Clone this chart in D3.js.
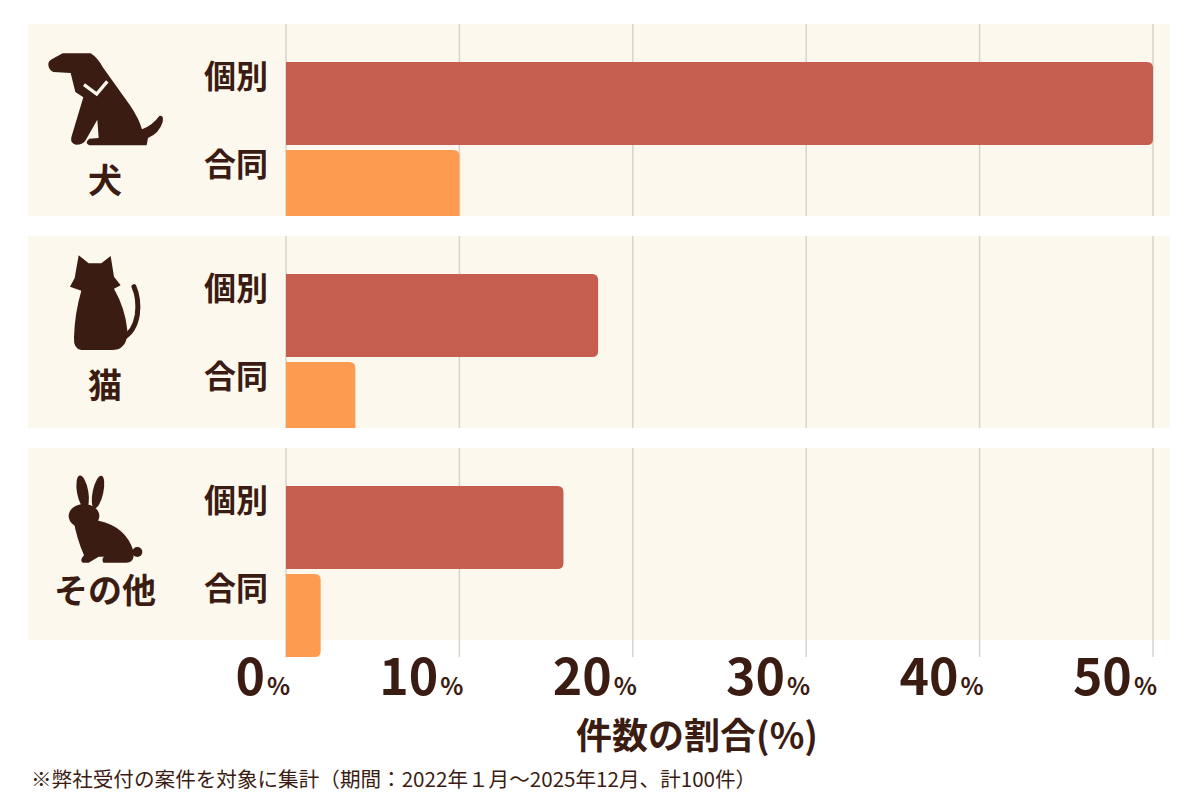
<!DOCTYPE html>
<html lang="ja">
<head>
<meta charset="utf-8">
<script src="https://cdn.jsdelivr.net/npm/d3@7"></script>
<style>
  html, body { margin: 0; padding: 0; background: #fff; }
  svg { display: block; font-family: "Noto Sans CJK JP", "Noto Sans", sans-serif; }
</style>
</head>
<body>
<svg id="chart" width="1200" height="800"></svg>
<script>
// ---------- data ----------
const animals = ["犬", "猫", "その他"];
const kinds = ["個別", "合同"];
const kobetsu = [50, 18, 16];   // % of cases, individual cremation
const godo = [10, 4, 2];        // % of cases, joint cremation
const xTicks = [0, 10, 20, 30, 40, 50];
const xTitle = "件数の割合(%)";
const note = "※弊社受付の案件を対象に集計（期間：2022年１月～2025年12月、計100件）";

const rows = animals.map((a, i) => ({ animal: a, values: [kobetsu[i], godo[i]] }));

// ---------- look ----------
const C = {
  band: "#fdf8ee",
  grid: "#d9d3ca",
  text: "#3b1c12",
  bar: { "個別": "#c55e4e", "合同": "#fd9c50" }
};

const svg = d3.select("#chart");

// ---------- scales ----------
const x = d3.scaleLinear().domain([0, 50]).range([286, 1153]);
const gy = d3.scaleBand().domain(animals).range([24, 640]).paddingInner(20 / 212).paddingOuter(0);
const by = d3.scaleBand().domain(kinds).range([38, 38 + 171]).paddingInner(5 / 88).paddingOuter(0);

const plotBottom = gy(animals[animals.length - 1]) + by(kinds[1]) + by.bandwidth();

// ---------- bands ----------
svg.append("g").selectAll("rect").data(animals).join("rect")
  .attr("x", 28).attr("width", 1170 - 28)
  .attr("y", d => gy(d)).attr("height", gy.bandwidth())
  .attr("fill", C.band);

// ---------- grid ----------
svg.append("g").selectAll("line").data(xTicks).join("line")
  .attr("x1", d => x(d)).attr("x2", d => x(d))
  .attr("y1", 24).attr("y2", plotBottom)
  .attr("stroke", C.grid).attr("stroke-width", 1.5);

// ---------- bars ----------
function rightRounded(x0, y0, w, h, r) {
  r = Math.min(r, w, h / 2);
  return `M${x0},${y0}H${x0 + w - r}Q${x0 + w},${y0} ${x0 + w},${y0 + r}` +
    `V${y0 + h - r}Q${x0 + w},${y0 + h} ${x0 + w - r},${y0 + h}H${x0}Z`;
}

const groups = svg.append("g").selectAll("g.grp").data(rows).join("g")
  .attr("class", "grp")
  .attr("transform", d => `translate(0,${gy(d.animal)})`);

groups.selectAll("path.bar")
  .data(d => d.values.map((v, i) => ({ kind: kinds[i], v })))
  .join("path")
  .attr("class", "bar")
  .attr("fill", d => C.bar[d.kind])
  .attr("d", d => rightRounded(x(0), by(d.kind), x(d.v) - x(0), by.bandwidth(), 6));

// white gaps between the bands cut the lower bars off
const gaps = animals.slice(0, -1).map(a => gy(a) + gy.bandwidth());
svg.append("g").selectAll("rect").data(gaps).join("rect")
  .attr("x", 0).attr("width", 1200)
  .attr("y", d => d).attr("height", gy.step() - gy.bandwidth())
  .attr("fill", "#fff");

// ---------- kind labels ----------
groups.selectAll("text.kind").data(kinds).join("text")
  .attr("class", "kind")
  .attr("x", 268)
  .attr("y", d => by(d) + 14)
  .attr("dy", "0.36em")
  .attr("text-anchor", "end")
  .attr("font-size", 32).attr("font-weight", 700)
  .attr("fill", C.text)
  .text(d => d);

// ---------- animal labels + icons ----------
const labelDy = [157, 150, 143];
groups.append("text")
  .attr("x", 105)
  .attr("y", (d, i) => labelDy[i])
  .attr("dy", "0.36em")
  .attr("text-anchor", "middle")
  .attr("font-size", 34).attr("font-weight", 700)
  .attr("fill", C.text)
  .text(d => d.animal);

// icon shapes drawn on a 3x grid, scaled down
const icons = {
  "犬": g => {
    g.append("path").attr("d",
      "M85 140 Q84 128 98 122 L128 106 L212 106 Q232 118 250 150 L330 262 Q356 300 366 334 " +
      "Q398 322 418 294 Q432 290 428 312 Q418 346 384 360 L380 382 L208 382 Q192 374 208 362 " +
      "L236 360 L232 305 L196 368 Q188 380 168 380 Q150 378 154 358 L190 238 L166 222 " +
      "L152 165 L100 162 Q86 156 85 140 Z");
    g.append("path").attr("d", "M192 200 L230 228 L262 190")
      .attr("fill", "none").attr("stroke", C.band).attr("stroke-width", 10)
      .attr("stroke-linejoin", "miter");
  },
  "猫": g => {
    g.append("path").attr("d",
      "M176 76 L206 100 L244 100 L272 78 L282 140 L302 166 L282 176 " +
      "Q316 236 322 300 Q322 340 306 350 Q296 360 276 360 L184 360 Q160 358 162 322 " +
      "Q164 250 184 182 L150 170 L164 144 Z");
    g.append("path").attr("d", "M306 326 Q344 306 352 254 Q358 206 342 170")
      .attr("fill", "none").attr("stroke", C.text).attr("stroke-width", 15)
      .attr("stroke-linecap", "round");
  },
  "その他": g => {
    g.append("ellipse").attr("cx", 188).attr("cy", 150).attr("rx", 17).attr("ry", 50)
      .attr("transform", "rotate(-10 188 150)");
    g.append("ellipse").attr("cx", 234).attr("cy", 150).attr("rx", 16).attr("ry", 50)
      .attr("transform", "rotate(12 234 150)");
    g.append("ellipse").attr("cx", 192).attr("cy", 222).attr("rx", 46).attr("ry", 36);
    g.append("path").attr("d",
      "M160 232 Q196 250 236 236 Q318 254 340 326 Q346 362 318 362 L250 362 " +
      "Q244 350 252 344 L236 344 L206 362 L188 362 Q178 356 192 340 Q170 290 160 232 Z");
    g.append("circle").attr("cx", 352).attr("cy", 330).attr("r", 15);
  }
};

groups.append("g")
  .attr("transform", "translate(20,-6) scale(0.3333)")
  .attr("fill", C.text)
  .each(function (d) { icons[d.animal](d3.select(this)); });

// ---------- x tick labels ----------
const tickG = svg.append("g").selectAll("text").data(xTicks).join("text")
  .attr("x", d => x(d) + 4)
  .attr("y", 695)
  .attr("text-anchor", "end")
  .attr("fill", C.text)
  .attr("font-weight", 700);
tickG.append("tspan").attr("font-size", 50).text(d => d);
tickG.append("tspan").attr("font-size", 24).attr("dx", 2).text("%");

// ---------- axis title + note ----------
svg.append("text")
  .attr("x", 697).attr("y", 749)
  .attr("text-anchor", "middle")
  .attr("font-size", 36).attr("font-weight", 700)
  .attr("fill", C.text)
  .text(xTitle);

svg.append("text")
  .attr("x", 31).attr("y", 787)
  .attr("font-size", 20.6)
  .attr("fill", C.text)
  .text(note);
</script>
</body>
</html>
